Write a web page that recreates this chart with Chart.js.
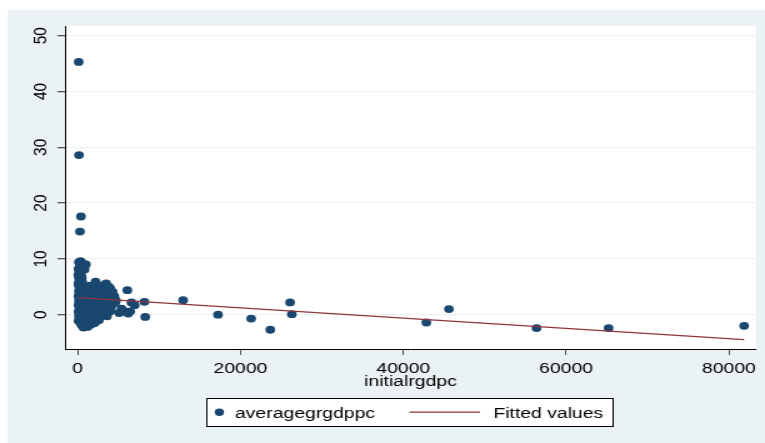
<!DOCTYPE html>
<html>
<head>
<meta charset="utf-8">
<script src="https://cdn.jsdelivr.net/npm/chart.js@4.4.1/dist/chart.umd.min.js"></script>
<style>
  html, body { margin: 0; padding: 0; background: #ffffff; overflow: hidden; }
  canvas { display: block; }
</style>
</head>
<body>
<!-- drawing surface is 612 px wide but shown 765 px wide, so the whole graph is widened horizontally -->
<canvas id="growth" width="612" height="443" style="width:765px;height:443px"></canvas>
<script>
// initial real GDP per capita (x) and average growth of real GDP per capita (y)
const gdpX = [
  120, 160, 400, 280,
  150, 350, 1000, 600, 250, 100, 700, 450, 200, 850, 80, 400, 150, 500, 250, 100, 550,
  2200, 3500, 3850, 6100, 8200, 8300, 12950,
  17240, 21310, 23660, 26090, 26310, 42830, 45610, 56370, 65220, 81870,
  5100, 5400, 5700, 6200, 6450, 6600, 7000, 4700,
  100, 500, 1500, 2600, 3200,
  300, 800, 1200, 2000, 2900, 4000,
  150, 600, 1000, 1800, 2400, 3400, 4300,
  200, 450, 900, 1400, 2200, 2800, 3700,
  100, 700, 1100, 1700, 2500, 3100, 4500,
  300, 550, 1300, 2000, 2700, 3500, 4200,
  150, 800, 1000, 1600, 2300, 3000, 3900,
  250, 650, 1200, 1900, 2600, 3300, 4600,
  100, 500, 950, 1500, 2100, 2900, 3700,
  350, 750, 1300, 1800, 2400, 3200, 4100,
  200, 600, 1100, 1600, 2200, 2800, 3600,
  100, 450, 900, 1400, 2000, 2500, 3300, 4000,
  300, 700, 1200, 1700, 2300, 3000,
  150, 550, 1000, 1500, 2100, 2700, 3600,
  250, 800, 1300, 1900, 2500,
  100, 600, 1100, 1700, 2600,
  350, 900, 1400, 2100,
  500, 1000, 1600,
  700, 1200
];
const growthY = [
  45.3, 28.6, 17.6, 14.9,
  9.4, 9.6, 9.0, 9.2, 8.7, 8.2, 8.5, 8.0, 7.6, 8.1, 7.1, 7.2, 6.6, 6.7, 6.1, 5.7, 5.9,
  5.9, 5.6, 5.0, 4.4, 2.3, -0.4, 2.6,
  0.0, -0.7, -2.7, 2.2, 0.1, -1.4, 1.0, -2.4, -2.4, -2.0,
  0.3, 1.1, 0.6, 0.2, 0.6, 2.2, 1.7, 2.5,
  5.3, 5.1, 5.2, 5.0, 5.3,
  4.8, 4.9, 4.7, 4.8, 4.6, 4.7,
  4.3, 4.4, 4.2, 4.3, 4.4, 4.2, 4.1,
  3.8, 3.9, 3.7, 3.8, 3.9, 3.7, 3.8,
  3.3, 3.4, 3.2, 3.3, 3.4, 3.2, 3.3,
  2.9, 3.0, 2.8, 2.9, 3.0, 2.8, 2.9,
  2.5, 2.6, 2.4, 2.5, 2.6, 2.4, 2.5,
  2.1, 2.2, 2.0, 2.1, 2.2, 2.0, 2.1,
  1.7, 1.8, 1.6, 1.7, 1.8, 1.6, 1.7,
  1.3, 1.4, 1.2, 1.3, 1.4, 1.2, 1.3,
  0.9, 1.0, 0.8, 0.9, 1.0, 0.8, 0.9,
  0.5, 0.6, 0.4, 0.5, 0.6, 0.4, 0.5, 0.6,
  0.1, 0.2, 0.0, 0.1, 0.2, 0.0,
  -0.3, -0.2, -0.4, -0.3, -0.2, -0.4, -0.3,
  -0.7, -0.6, -0.8, -0.7, -0.6,
  -1.1, -1.0, -1.2, -1.1, -1.0,
  -1.5, -1.4, -1.6, -1.5,
  -1.9, -2.0, -1.8,
  -2.3, -2.2
];

// linear fit, evaluated at the smallest and largest x
const fitX = [80, 81870];
const fitY = [3.04, -4.48];

// axis ticks and ranges
const xTicks = [0, 20000, 40000, 60000, 80000];
const yTicks = [0, 10, 20, 30, 40, 50];
const xRange = [-1560, 83330];
const yRange = [-6.15, 51.74];

const seriesNames = ['averagegrgdppc', 'Fitted values'];
const navy = '#1A476F';
const maroon = '#90353B';
const outerFill = '#EAF2F3';
const FONT = '"Liberation Sans", Arial, Helvetica, sans-serif';

// graph region (light) and white plot region
const backdrop = {
  id: 'backdrop',
  beforeDraw(chart) {
    const { ctx, chartArea: a, width, height } = chart;
    ctx.save();
    ctx.fillStyle = '#ffffff';
    ctx.fillRect(0, 0, width, height);
    ctx.fillStyle = outerFill;
    ctx.fillRect(6.4, 10, width - 6.4, height - 10);
    ctx.fillStyle = '#ffffff';
    ctx.fillRect(a.left, a.top, a.right - a.left, a.bottom - a.top);
    ctx.restore();
  }
};

// vertical-axis labels, turned to read bottom to top, set just left of the tick marks
const yLabels = {
  id: 'yLabels',
  afterDraw(chart) {
    const sc = chart.scales.y;
    const ctx = chart.ctx;
    ctx.save();
    ctx.font = '15.5px ' + FONT;
    ctx.fillStyle = '#000000';
    ctx.textAlign = 'center';
    ctx.textBaseline = 'middle';
    sc.ticks.forEach(t => {
      const py = sc.getPixelForValue(t.value);
      ctx.save();
      ctx.translate(33.2, py);
      ctx.rotate(-Math.PI / 2);
      ctx.fillText(String(t.value), 0, 0);
      ctx.restore();
    });
    ctx.restore();
  }
};

// boxed key below the axis title
const keyBox = {
  id: 'keyBox',
  afterDraw(chart) {
    const ctx = chart.ctx;
    const ds = chart.data.datasets;
    const x0 = 165.5, y0 = 398.5, w = 325, h = 28, cy = 412.2;
    ctx.save();
    ctx.fillStyle = '#ffffff';
    ctx.fillRect(x0, y0, w, h);
    ctx.strokeStyle = '#000000';
    ctx.lineWidth = 1;
    ctx.strokeRect(x0, y0, w, h);

    const pts = ds.find(d => d.type === 'scatter');
    const fit = ds.find(d => d.type === 'line');

    ctx.fillStyle = pts.backgroundColor;
    ctx.beginPath();
    ctx.arc(175.5, cy, 3.7, 0, Math.PI * 2);
    ctx.fill();

    ctx.strokeStyle = fit.borderColor;
    ctx.lineWidth = fit.borderWidth;
    ctx.beginPath();
    ctx.moveTo(327.5, cy);
    ctx.lineTo(384, cy);
    ctx.stroke();

    ctx.fillStyle = '#000000';
    ctx.font = '15.5px ' + FONT;
    ctx.textAlign = 'left';
    ctx.textBaseline = 'alphabetic';
    ctx.fillText(pts.label, 188, 418);
    ctx.fillText(fit.label, 394.7, 418);
    ctx.restore();
  }
};

const scatterPts = gdpX.map((x, i) => ({ x: x, y: growthY[i] }));
const fitPts = fitX.map((x, i) => ({ x: x, y: fitY[i] }));

new Chart(document.getElementById('growth'), {
  data: {
    datasets: [
      {
        type: 'line',
        label: seriesNames[1],
        data: fitPts,
        borderColor: maroon,
        borderWidth: 1.3,
        pointRadius: 0,
        fill: false,
        tension: 0,
        order: 0
      },
      {
        type: 'scatter',
        label: seriesNames[0],
        data: scatterPts,
        backgroundColor: navy,
        borderWidth: 0,
        pointRadius: 3.9,
        pointHoverRadius: 3.9,
        order: 1
      }
    ]
  },
  options: {
    responsive: false,
    animation: false,
    events: [],
    layout: { padding: { left: 0, top: 26, right: 7.2, bottom: 52 } },
    plugins: {
      legend: { display: false },
      tooltip: { enabled: false },
      title: { display: false }
    },
    scales: {
      x: {
        type: 'linear',
        position: 'bottom',
        min: xRange[0],
        max: xRange[1],
        afterBuildTicks: s => { s.ticks = xTicks.map(v => ({ value: v })); },
        afterFit: s => { s.height = 42; },
        grid: { display: true, drawOnChartArea: false, drawTicks: true, tickLength: 6, tickColor: '#555555', lineWidth: 1 },
        border: { display: true, color: '#000000', width: 1 },
        ticks: {
          color: '#000000',
          font: { family: FONT, size: 15.5 },
          padding: 4,
          minRotation: 0,
          maxRotation: 0,
          autoSkip: false,
          callback: v => String(v)
        },
        title: {
          display: true,
          text: 'initialrgdpc',
          color: '#000000',
          font: { family: FONT, size: 15.5 },
          padding: { top: 0, bottom: 0 }
        }
      },
      y: {
        type: 'linear',
        position: 'left',
        min: yRange[0],
        max: yRange[1],
        afterBuildTicks: s => { s.ticks = yTicks.map(v => ({ value: v })); },
        afterFit: s => { s.width = 52; },
        grid: { color: outerFill, lineWidth: 1.3, drawTicks: true, tickLength: 6, tickColor: '#555555' },
        border: { display: true, color: '#000000', width: 1 },
        ticks: { display: false }
      }
    }
  },
  plugins: [backdrop, yLabels, keyBox]
});
</script>
</body>
</html>
